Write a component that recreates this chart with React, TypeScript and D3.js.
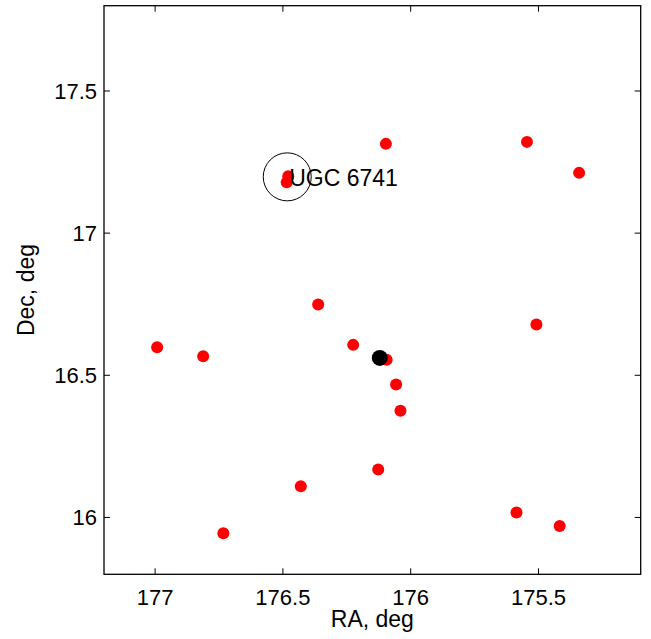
import React from "react";
import * as d3 from "d3";

const W = 651;
const H = 639;
const margin = { left: 104, right: 10.3, top: 5.7, bottom: 64.7 };

const raDomain: [number, number] = [177.2, 175.1];
const decDomain: [number, number] = [15.8, 17.8];
const xTicks = [177, 176.5, 176, 175.5];
const yTicks = [16, 16.5, 17, 17.5];

const galaxyRA = [
  176.097, 175.545, 175.341, 176.479, 176.485, 176.362, 175.508, 176.992,
  176.812, 176.225, 176.094, 176.057, 176.04, 176.127, 176.43, 176.733,
  175.586, 175.417,
];
const galaxyDec = [
  17.314, 17.321, 17.212, 17.2, 17.179, 16.749, 16.679, 16.599, 16.567,
  16.607, 16.555, 16.468, 16.375, 16.169, 16.11, 15.944, 16.017, 15.97,
];

const centerRA = [176.121];
const centerDec = [16.561];

const labelRA = 176.483;
const labelDec = 17.198;
const labelText = "UGC 6741";

export default function App() {
  const x = d3
    .scaleLinear()
    .domain(raDomain)
    .range([margin.left, W - margin.right]);
  const y = d3
    .scaleLinear()
    .domain(decDomain)
    .range([H - margin.bottom, margin.top]);

  const x0 = margin.left;
  const x1 = W - margin.right;
  const y0 = margin.top;
  const y1 = H - margin.bottom;
  const font = "'Liberation Sans', Arial, Helvetica, sans-serif";
  const tl = 6;

  return (
    <svg
      width={W}
      height={H}
      style={{ position: "absolute", left: 0, top: 0, background: "#fff" }}
      fontFamily={font}
    >
      <rect x={0} y={0} width={W} height={H} fill="#fff" />
      {galaxyRA.map((ra, i) => (
        <circle key={"g" + i} cx={x(ra)} cy={y(galaxyDec[i])} r={6} fill="#ff0000" />
      ))}
      {centerRA.map((ra, i) => (
        <circle key={"c" + i} cx={x(ra)} cy={y(centerDec[i])} r={8} fill="#000" />
      ))}
      <circle
        cx={x(labelRA)}
        cy={y(labelDec)}
        r={24}
        fill="none"
        stroke="#000"
        strokeWidth={1}
      />
      <text x={x(labelRA) + 2} y={y(labelDec) + 9.5} fontSize={23} fill="#000">
        {labelText}
      </text>

      {/* frame */}
      <rect
        x={x0}
        y={y0}
        width={x1 - x0}
        height={y1 - y0}
        fill="none"
        stroke="#000"
        strokeWidth={1.3}
      />
      {xTicks.map((t) => (
        <g key={"xt" + t}>
          <line x1={x(t)} x2={x(t)} y1={y1} y2={y1 - tl} stroke="#000" />
          <line x1={x(t)} x2={x(t)} y1={y0} y2={y0 + tl} stroke="#000" />
          <text x={x(t)} y={605} fontSize={22} textAnchor="middle" fill="#000">
            {d3.format("")(t)}
          </text>
        </g>
      ))}
      {yTicks.map((t) => (
        <g key={"yt" + t}>
          <line x1={x0} x2={x0 + tl} y1={y(t)} y2={y(t)} stroke="#000" />
          <line x1={x1} x2={x1 - tl} y1={y(t)} y2={y(t)} stroke="#000" />
          <text x={97} y={y(t) + 8} fontSize={22} textAnchor="end" fill="#000">
            {d3.format("")(t)}
          </text>
        </g>
      ))}
      <text x={(x0 + x1) / 2} y={627} fontSize={23} textAnchor="middle" fill="#000">
        RA, deg
      </text>
      <text
        transform={`translate(34, ${(y0 + y1) / 2}) rotate(-90)`}
        fontSize={23}
        textAnchor="middle"
        fill="#000"
      >
        Dec, deg
      </text>
    </svg>
  );
}
